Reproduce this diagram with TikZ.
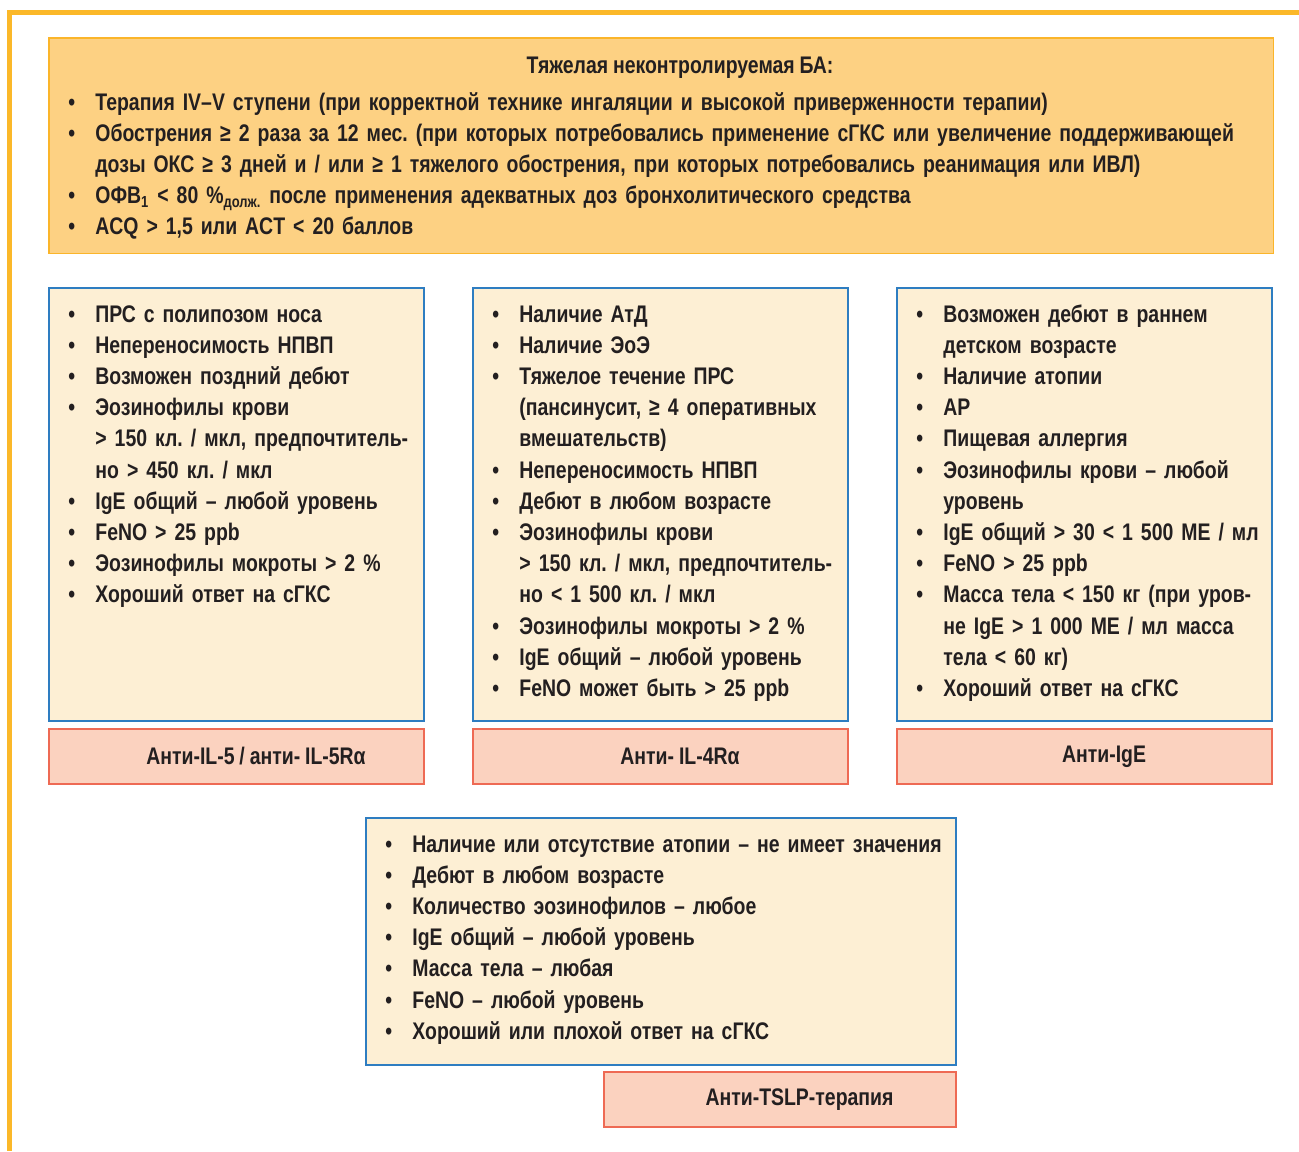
\documentclass[tikz,border=0pt]{standalone}
\usepackage{fontspec}
\setmainfont{Liberation Sans}[FakeStretch=0.81, WordSpace=0.9]
\usepackage{tikz}
\usetikzlibrary{positioning}
\definecolor{frameorange}{HTML}{FBB829}
\definecolor{sevfill}{HTML}{FDD183}
\definecolor{sevdraw}{HTML}{FBB52A}
\definecolor{critfill}{HTML}{FDEFD4}
\definecolor{critdraw}{HTML}{2E7DC1}
\definecolor{drugfill}{HTML}{FBD2BF}
\definecolor{drugdraw}{HTML}{EE6A54}
\definecolor{textdark}{HTML}{231F20}
\setlength{\parskip}{0pt}
\frenchspacing
% bullet item: first one without \par, the rest start a new paragraph
\newcommand{\itmhead}{\noindent\hangindent=14.5pt\relax\hangafter=1\relax
  \makebox[14.5pt][l]{\hspace{1pt}\textbullet}}
\newcommand{\itm}{\par\itmhead}
\tikzset{
  sevbox/.style={
    rectangle, draw=sevdraw, fill=sevfill, line width=0.75pt,
    minimum width=612.25pt, minimum height=107.75pt, inner sep=0pt
  },
  critbox/.style={
    rectangle, draw=critdraw, fill=critfill, line width=1pt,
    minimum width=187.5pt, minimum height=216.5pt, inner sep=0pt
  },
  drugbox/.style={
    rectangle, draw=drugdraw, fill=drugfill, line width=1pt,
    minimum width=187.5pt, minimum height=27.5pt, inner sep=0pt,
    font=\fontsize{12}{15.6}\selectfont\bfseries, text=textdark,
    execute at begin node=\hspace*{19.5pt}
  },
  listtext/.style={
    inner sep=0pt, align=left, anchor=base west, text width=#1,
    font=\fontsize{12}{15.6}\selectfont\bfseries, text=textdark
  },
  listtext/.default=185pt,
  titletext/.style={
    inner sep=0pt, anchor=base,
    font=\fontsize{12}{15.6}\selectfont\bfseries, text=textdark
  },
}

\begin{document}
\begin{tikzpicture}[x=0.5pt, y=-0.5pt]
  \useasboundingbox (0,0) rectangle (1299,1151);
  % outer frame
  \draw[frameorange, line width=2.5pt] (1299,12.5) -- (9.5,12.5) -- (9.5,1151);

  % severe asthma criteria
  \node[sevbox, anchor=north west] (sev) at (48,37) {};
  \node[titletext] (sevtitle) at ([xshift=9.5pt, yshift=-18pt]sev.north)
    {Тяжелая неконтролируемая БА:};
  \node[listtext=620pt] (sevlist) at ([xshift=9pt, yshift=-36.5pt]sev.north west) {%
    \itmhead Терапия IV–V ступени (при корректной технике ингаляции и высокой приверженности терапии)
    \itm Обострения ≥ 2 раза за 12 мес. (при которых потребовались применение сГКС или увеличение поддерживающей\newline
      дозы ОКС ≥ 3 дней и / или ≥ 1 тяжелого обострения, при которых потребовались реанимация или ИВЛ)
    \itm ОФВ\textsubscript{1} < 80 \%\textsubscript{долж.} после применения адекватных доз бронхолитического средства
    \itm ACQ > 1,5 или ACT < 20 баллов};

  % phenotype boxes
  \node[critbox, anchor=north west] (il5) at (48,287) {};
  \node[critbox, right=23.5pt of il5] (il4) {};
  \node[critbox, right=23.5pt of il4] (ige) {};

  \node[listtext] (il5list) at ([xshift=9pt, yshift=-17.5pt]il5.north west) {%
    \itmhead ПРС с полипозом носа
    \itm Непереносимость НПВП
    \itm Возможен поздний дебют
    \itm Эозинофилы крови\newline
      > 150 кл. / мкл, предпочтитель-\newline
      но > 450 кл. / мкл
    \itm IgE общий – любой уровень
    \itm FeNO > 25 ppb
    \itm Эозинофилы мокроты > 2 \%
    \itm Хороший ответ на сГКС};

  \node[listtext] (il4list) at ([xshift=9pt, yshift=-17.5pt]il4.north west) {%
    \itmhead Наличие АтД
    \itm Наличие ЭоЭ
    \itm Тяжелое течение ПРС\newline
      (пансинусит, ≥ 4 оперативных\newline
      вмешательств)
    \itm Непереносимость НПВП
    \itm Дебют в любом возрасте
    \itm Эозинофилы крови\newline
      > 150 кл. / мкл, предпочтитель-\newline
      но < 1 500 кл. / мкл
    \itm Эозинофилы мокроты > 2 \%
    \itm IgE общий – любой уровень
    \itm FeNO может быть > 25 ppb};

  \node[listtext] (igelist) at ([xshift=9pt, yshift=-17.5pt]ige.north west) {%
    \itmhead Возможен дебют в раннем\newline
      детском возрасте
    \itm Наличие атопии
    \itm АР
    \itm Пищевая аллергия
    \itm Эозинофилы крови – любой\newline
      уровень
    \itm IgE общий > 30 < 1 500 МЕ / мл
    \itm FeNO > 25 ppb
    \itm Масса тела < 150 кг (при уров-\newline
      не IgE > 1 000 МЕ / мл масса\newline
      тела < 60 кг)
    \itm Хороший ответ на сГКС};

  % biologics
  \node[drugbox, below=3pt of il5] (il5drug) {Анти-IL-5 / анти- IL-5Rα};
  \node[drugbox, below=3pt of il4] (il4drug) {Анти- IL-4Rα};
  \node[drugbox, below=3pt of ige] (igedrug) {Анти-IgE};

  % TSLP
  \node[critbox, minimum width=295pt, minimum height=123.5pt, anchor=north west]
    (tslp) at (365,817) {};
  \node[listtext=300pt] (tslplist) at ([xshift=9pt, yshift=-17.5pt]tslp.north west) {%
    \itmhead Наличие или отсутствие атопии – не имеет значения
    \itm Дебют в любом возрасте
    \itm Количество эозинофилов – любое
    \itm IgE общий – любой уровень
    \itm Масса тела – любая
    \itm FeNO – любой уровень
    \itm Хороший или плохой ответ на сГКС};
  \node[drugbox, minimum width=176pt, below=2.5pt of tslp.south east, anchor=north east]
    (tslpdrug) {Анти-TSLP-терапия};
\end{tikzpicture}
\end{document}
